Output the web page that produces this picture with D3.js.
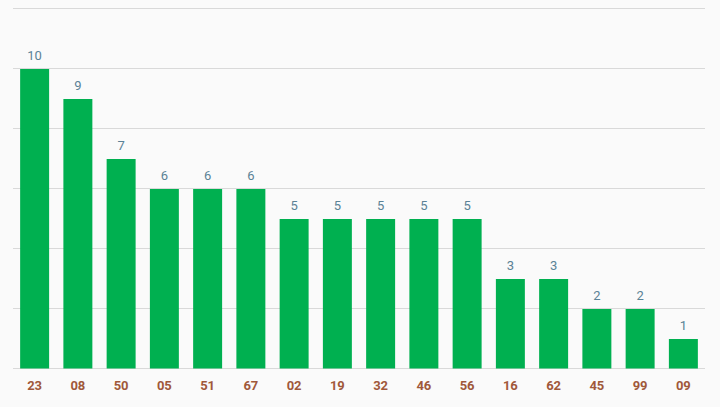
<!DOCTYPE html>
<html><head><meta charset="utf-8">
<script src="https://cdn.jsdelivr.net/npm/d3@7"></script>
<style>
html,body{margin:0;padding:0;background:#fafafa;}
svg{display:block;font-family:Roboto, "Noto Sans", sans-serif;}
</style></head>
<body>
<svg id="chart" width="720" height="407"></svg>
<script>
const categories = ["23","08","50","05","51","67","02","19","32","46","56","16","62","45","99","09"];
const values = [10,9,7,6,6,6,5,5,5,5,5,3,3,2,2,1];
const yTicks = [0,2,4,6,8,10,12];

const svg = d3.select("#chart");
const W = 720, H = 407;
svg.append("rect").attr("width", W).attr("height", H).attr("fill", "#fafafa");

const x = d3.scaleBand().domain(categories).range([13, 705]).paddingInner(0.33).paddingOuter(0.165);
const y = d3.scaleLinear().domain([0, 12]).range([368, 8]);

svg.append("g").selectAll("line").data(yTicks).join("line")
  .attr("x1", 13).attr("x2", 705)
  .attr("y1", d => Math.round(y(d)) + 0.5).attr("y2", d => Math.round(y(d)) + 0.5)
  .attr("stroke", "#d9d9d9").attr("stroke-width", 1);

svg.append("g").selectAll("rect").data(values).join("rect")
  .attr("x", (d, i) => x(categories[i]))
  .attr("width", x.bandwidth())
  .attr("y", d => y(d) + 1)
  .attr("height", d => y(0) - y(d) - 0.5)
  .attr("fill", "#00b050");

svg.append("g").selectAll("text").data(values).join("text")
  .attr("x", (d, i) => x(categories[i]) + x.bandwidth() / 2)
  .attr("y", d => y(d) - 8)
  .attr("text-anchor", "middle")
  .attr("font-size", 13)
  .attr("fill", "#5b8296")
  .text(d => d);

svg.append("g").selectAll("text").data(categories).join("text")
  .attr("x", d => x(d) + x.bandwidth() / 2)
  .attr("y", 390)
  .attr("text-anchor", "middle")
  .attr("font-size", 13)
  .attr("font-weight", "bold")
  .attr("fill", "#a0583a")
  .text(d => d);
</script>
</body></html>
